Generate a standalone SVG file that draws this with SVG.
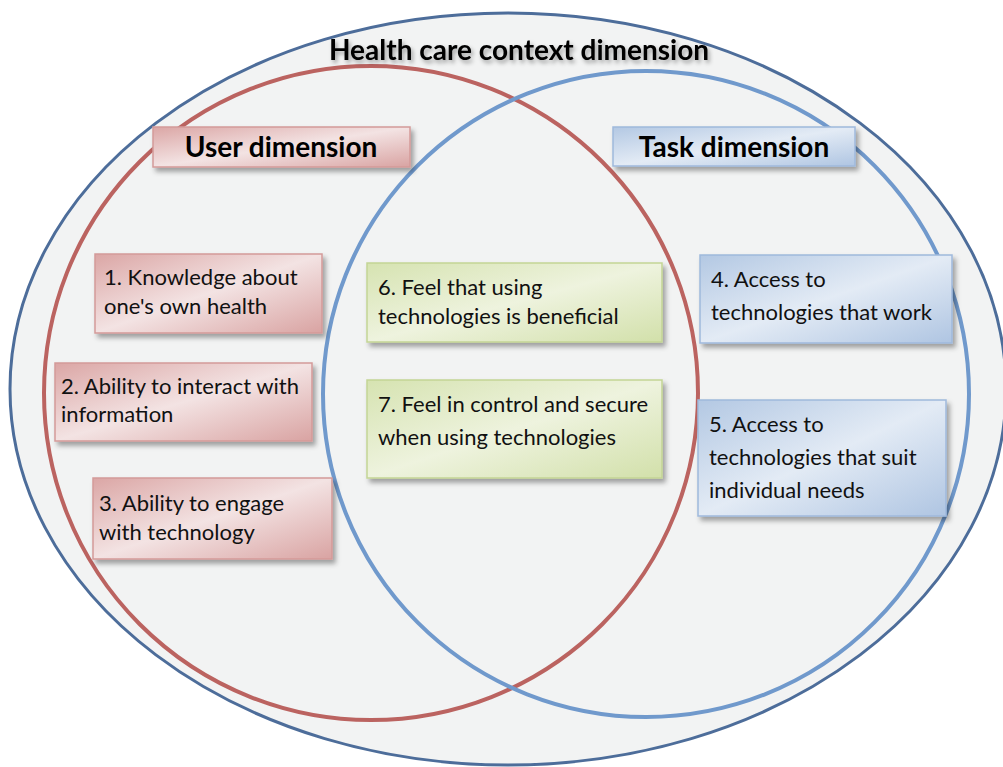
<svg xmlns="http://www.w3.org/2000/svg" width="1003" height="767" viewBox="0 0 1003 767">
  <defs>
    <linearGradient id="gRed" x1="0" y1="0" x2="1" y2="1">
      <stop offset="0" stop-color="#dba6a5"/>
      <stop offset="0.5" stop-color="#f3e3e3"/>
      <stop offset="1" stop-color="#d9a3a2"/>
    </linearGradient>
    <linearGradient id="gBlue" x1="0" y1="0" x2="1" y2="1">
      <stop offset="0" stop-color="#b3c8e3"/>
      <stop offset="0.5" stop-color="#e3ebf5"/>
      <stop offset="1" stop-color="#afc5e2"/>
    </linearGradient>
    <linearGradient id="gGreen" x1="0" y1="0" x2="1" y2="1">
      <stop offset="0" stop-color="#d6e3b1"/>
      <stop offset="0.5" stop-color="#eef3de"/>
      <stop offset="1" stop-color="#d2e0aa"/>
    </linearGradient>
    <filter id="shadow" x="-10%" y="-10%" width="125%" height="135%">
      <feDropShadow dx="3" dy="4" stdDeviation="2.5" flood-color="#000" flood-opacity="0.35"/>
    </filter>
    <filter id="tshadow" x="-5%" y="-30%" width="115%" height="170%">
      <feDropShadow dx="2" dy="3" stdDeviation="2" flood-color="#000" flood-opacity="0.35"/>
    </filter>
  </defs>
  <style>
    .lbl { font-family: Lato, "Open Sans", "Liberation Sans", sans-serif; font-size: 22px; fill: #111; }
    .hdr { font-family: Lato, "Open Sans", "Liberation Sans", sans-serif; font-size: 28px; font-weight: bold; fill: #000; text-anchor: middle; }
    .red { fill: url(#gRed); stroke: #d49a99; stroke-width: 1.5; filter: url(#shadow); }
    .blue { fill: url(#gBlue); stroke: #9fb9dc; stroke-width: 1.5; filter: url(#shadow); }
    .green { fill: url(#gGreen); stroke: #c3d595; stroke-width: 1.5; filter: url(#shadow); }
  </style>
  <rect width="1003" height="767" fill="#ffffff"/>

  <!-- venn outlines -->
  <g id="sets">
    <ellipse id="context" cx="508" cy="389" rx="498" ry="376" fill="#f2f3f3" stroke="#4d6d9a" stroke-width="3"/>
    <circle id="user-set" cx="371" cy="393" r="327" fill="none" stroke="#bb6360" stroke-width="4"/>
    <circle id="task-set" cx="646" cy="394" r="323" fill="none" stroke="#7099cc" stroke-width="4"/>
  </g>

  <g id="title">
    <text class="hdr" x="519" y="60" font-size="29" filter="url(#tshadow)">Health care context dimension</text>
  </g>

  <g id="user-dimension">
    <rect class="red" x="153" y="127" width="257" height="40"/>
    <text class="hdr" x="281" y="157">User dimension</text>
  </g>
  <g id="task-dimension">
    <rect class="blue" x="613" y="127" width="242" height="39"/>
    <text class="hdr" x="734" y="157">Task dimension</text>
  </g>

  <g id="n1">
    <rect class="red" x="95" y="254" width="227" height="79"/>
    <text class="lbl" x="104" y="285">1. Knowledge about</text>
    <text class="lbl" x="104" y="314">one's own health</text>
  </g>
  <g id="n2">
    <rect class="red" x="55" y="363" width="257" height="78"/>
    <text class="lbl" x="61" y="394">2. Ability to interact with</text>
    <text class="lbl" x="61" y="422">information</text>
  </g>
  <g id="n3">
    <rect class="red" x="93" y="478" width="239" height="81"/>
    <text class="lbl" x="99" y="511">3. Ability to engage</text>
    <text class="lbl" x="99" y="540">with technology</text>
  </g>

  <g id="n6">
    <rect class="green" x="367" y="263" width="295" height="79"/>
    <text class="lbl" x="378" y="295">6. Feel that using</text>
    <text class="lbl" x="378" y="324">technologies is beneficial</text>
  </g>
  <g id="n7">
    <rect class="green" x="367" y="380" width="295" height="98"/>
    <text class="lbl" x="378" y="412">7. Feel in control and secure</text>
    <text class="lbl" x="378" y="445">when using technologies</text>
  </g>

  <g id="n4">
    <rect class="blue" x="700" y="255" width="252" height="88"/>
    <text class="lbl" x="711" y="287">4. Access to</text>
    <text class="lbl" x="711" y="320">technologies that work</text>
  </g>
  <g id="n5">
    <rect class="blue" x="698" y="400" width="248" height="116"/>
    <text class="lbl" x="709" y="432">5. Access to</text>
    <text class="lbl" x="709" y="465">technologies that suit</text>
    <text class="lbl" x="709" y="498">individual needs</text>
  </g>
</svg>
